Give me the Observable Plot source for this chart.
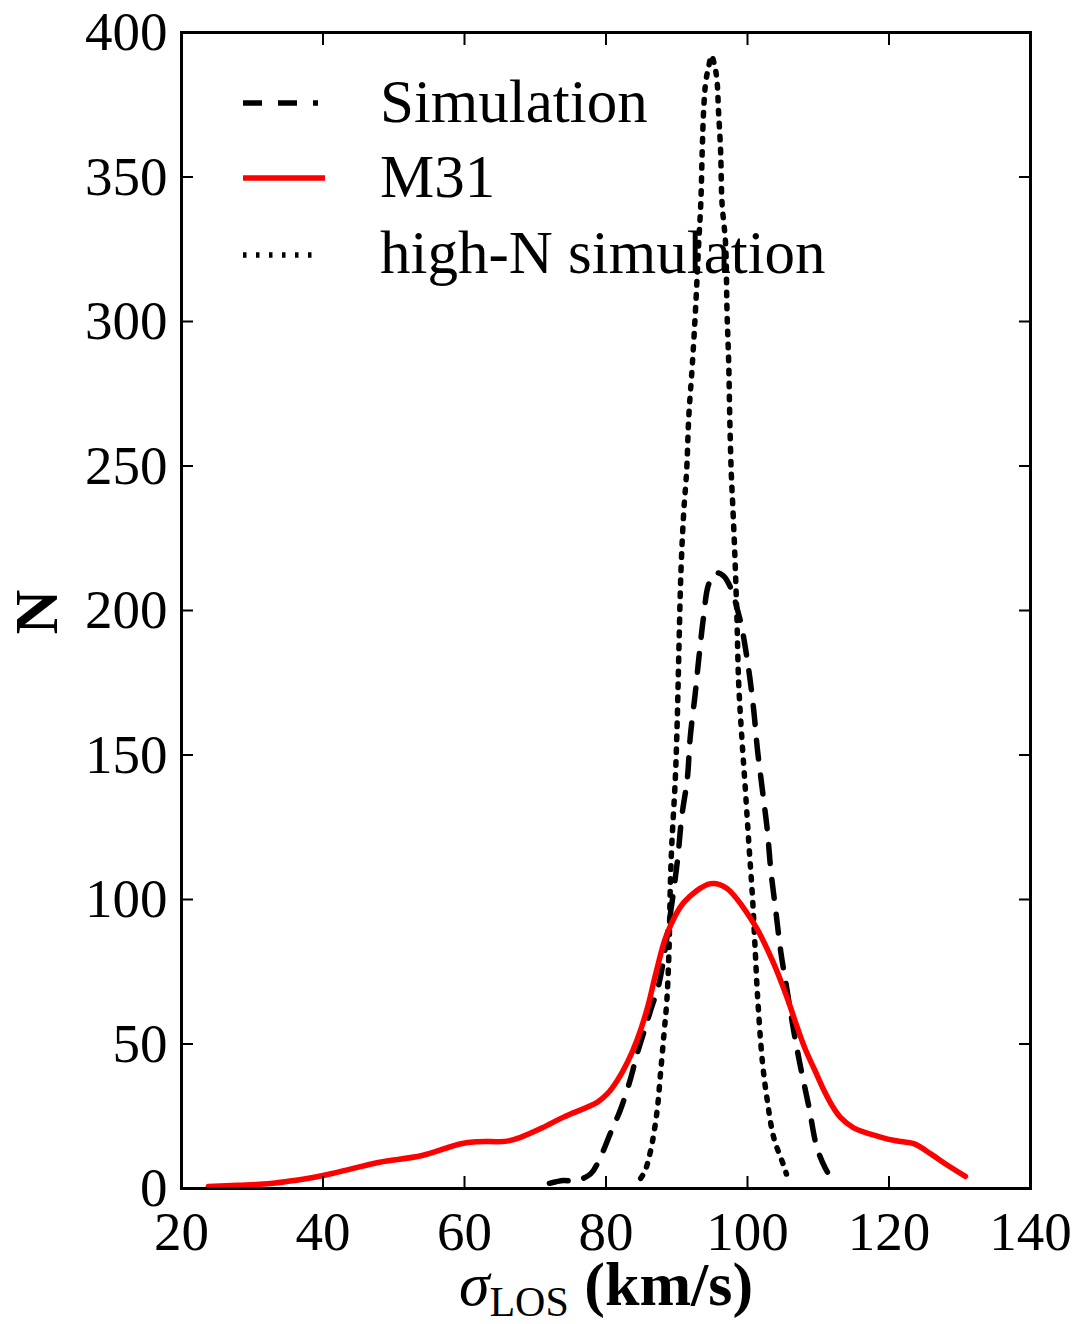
<!DOCTYPE html>
<html>
<head>
<meta charset="utf-8">
<script src="https://cdn.jsdelivr.net/npm/d3@7"></script>
<script src="https://cdn.jsdelivr.net/npm/@observablehq/plot@0.6"></script>
<style>
  html, body { margin: 0; padding: 0; background: white; }
  #chart { width: 1079px; height: 1324px; }
</style>
</head>
<body>
<div id="chart"></div>
<script>
// ---- data ----
const xTicks = [20, 40, 60, 80, 100, 120, 140];
const yTicks = [0, 50, 100, 150, 200, 250, 300, 350, 400];

const seriesNames = ["Simulation", "M31", "high-N simulation"];

// Simulation (dashed)
const simX = [72, 74, 75.5, 77.8, 79.2, 80.6, 82, 83.4, 84.4, 85.6, 86.3, 87.5, 88.8, 90.1, 90.7, 91.5, 91.9, 92.6, 93.1, 93.8, 94.5, 95.5, 96.6, 97.6, 98.5, 99.2, 100.2, 100.9, 101.4, 102.1, 102.8, 103.3, 104, 104.7, 105.6, 106.5, 107.5, 108.7, 109.8, 111, 112.2];
const simY = [1.8, 2.8, 2.6, 5, 10.8, 19, 27, 37.4, 46.6, 56, 61.6, 71, 90, 113.5, 128.5, 142, 156, 171, 183, 198, 209, 213, 212, 208, 201, 194, 179, 165, 152, 138, 124, 110, 96, 82, 68.5, 55, 42, 28, 14.3, 7, 2.2];

// M31 (red solid)
const m31X = [23.8, 28, 32.6, 36, 40, 44, 48, 54, 59.5, 62, 66, 68, 71, 74, 78.8, 80.2, 81.6, 83, 84.4, 85.8, 87.2, 88.6, 91, 94.8, 97, 100.9, 103.5, 105.6, 107, 108.2, 109.5, 110.8, 112, 113.1, 115, 118.8, 121, 123.5, 125.9, 128, 130.8];
const m31Y = [0.7, 1.1, 1.7, 2.8, 4.5, 6.8, 9.1, 11.4, 15.5, 16.2, 16.4, 17.8, 21, 24.7, 29.9, 32.8, 37.4, 43.5, 51.5, 62, 76, 88, 99, 105.5, 104, 91.7, 79, 66, 56, 48, 41, 34, 28.5, 24.7, 21, 17.8, 16.5, 15.5, 12, 8.5, 4.2];

// high-N simulation (dotted)
const hiX = [84.9, 85.5, 86.3, 87.2, 87.7, 88.2, 88.6, 88.9, 89.1, 89.3, 89.8, 90.06, 90.3, 90.6, 91, 91.4, 91.7, 92.2, 92.65, 93.1, 93.4, 93.6, 93.8, 94.1, 94.5, 94.9, 95.4, 95.7, 95.9, 96.2, 96.4, 96.9, 97.1, 97.35, 97.5, 97.7, 97.96, 98.2, 98.5, 98.75, 99.2, 99.7, 100.2, 100.7, 101.1, 101.4, 102.1, 102.8, 103.7, 105.1, 105.5];
const hiY = [3.5, 6, 13, 26.4, 39.7, 53.6, 65, 82, 105.5, 119, 142, 161, 186, 214, 234.6, 248.4, 267, 285, 304, 327, 341, 359, 373, 383, 388, 392, 388, 383, 373, 359, 341, 327, 304, 285, 266, 248, 234, 220, 198, 175, 156, 138, 119, 101, 82, 67.5, 44, 30.4, 17.7, 8, 5];

const toRows = (xs, ys) => xs.map((x, i) => ({x, y: ys[i]}));
const sim = toRows(simX, simY);
const m31 = toRows(m31X, m31Y);
const hiN = toRows(hiX, hiY);

const FONT = "'Liberation Serif', 'Times New Roman', serif";

const plot = Plot.plot({
  width: 1079,
  height: 1324,
  marginLeft: 181,
  marginRight: 49,
  marginTop: 32,
  marginBottom: 136,
  style: {fontFamily: FONT, fontSize: "55px", background: "white", color: "black", overflow: "visible"},
  x: {domain: [20, 140]},
  y: {domain: [0, 400]},
  marks: [
    Plot.line(hiN, {x: "x", y: "y", stroke: "black", strokeWidth: 5.5, strokeDasharray: "3.5,9.5", curve: "catmull-rom"}),
    Plot.line(sim, {x: "x", y: "y", stroke: "black", strokeWidth: 5.5, strokeDasharray: "19,16", curve: "catmull-rom"}),
    Plot.line(m31, {x: "x", y: "y", stroke: "#ff0000", strokeWidth: 5.5, curve: "catmull-rom"}),
    Plot.frame({stroke: "black", strokeWidth: 3}),
    Plot.axisX(xTicks, {anchor: "bottom", tickSize: -12, tickPadding: 34, strokeWidth: 2, label: null, fontSize: 55}),
    Plot.axisX(xTicks, {anchor: "top", tickSize: -12, strokeWidth: 2, tickFormat: () => "", label: null}),
    Plot.axisY(yTicks, {anchor: "left", tickSize: -12, tickPadding: 26, strokeWidth: 2, label: null, fontSize: 55}),
    Plot.axisY(yTicks, {anchor: "right", tickSize: -12, strokeWidth: 2, tickFormat: () => "", label: null})
  ]
});

document.getElementById("chart").appendChild(plot);

// ---- axis titles and legend (text) ----
const svg = d3.select(plot);

svg.append("text")
  .attr("transform", "translate(57,612) rotate(-90)")
  .attr("text-anchor", "middle")
  .attr("font-family", FONT)
  .attr("font-weight", "bold")
  .attr("font-size", 62)
  .attr("fill", "black")
  .text("N");

const xl = svg.append("text")
  .attr("x", 606)
  .attr("y", 1305)
  .attr("text-anchor", "middle")
  .attr("font-family", FONT)
  .attr("fill", "black");
xl.append("tspan").attr("font-style", "italic").attr("font-size", 62).text("σ");
xl.append("tspan").attr("font-size", 42).attr("dy", 11).text("LOS");
xl.append("tspan").attr("font-size", 62).attr("font-weight", "bold").attr("dy", -11).text("\u00a0(km/s)");

const legend = svg.append("g");
const legendStyles = [
  {stroke: "black", width: 5.5, dash: "19,16", x2: 318},
  {stroke: "#ff0000", width: 5.5, dash: null, x2: 325},
  {stroke: "black", width: 5.5, dash: "3.5,9.5", x2: 318}
];
const rowY = [103, 178, 255];
const baseY = [122, 197, 273];
seriesNames.forEach((name, i) => {
  const s = legendStyles[i];
  legend.append("line")
    .attr("x1", 243).attr("x2", s.x2)
    .attr("y1", rowY[i]).attr("y2", rowY[i])
    .attr("stroke", s.stroke)
    .attr("stroke-width", s.width)
    .attr("stroke-dasharray", s.dash);
  legend.append("text")
    .attr("x", 380).attr("y", baseY[i])
    .attr("text-anchor", "start")
    .attr("font-family", FONT)
    .attr("font-size", 61)
    .attr("fill", "black")
    .text(name);
});
</script>
</body>
</html>
